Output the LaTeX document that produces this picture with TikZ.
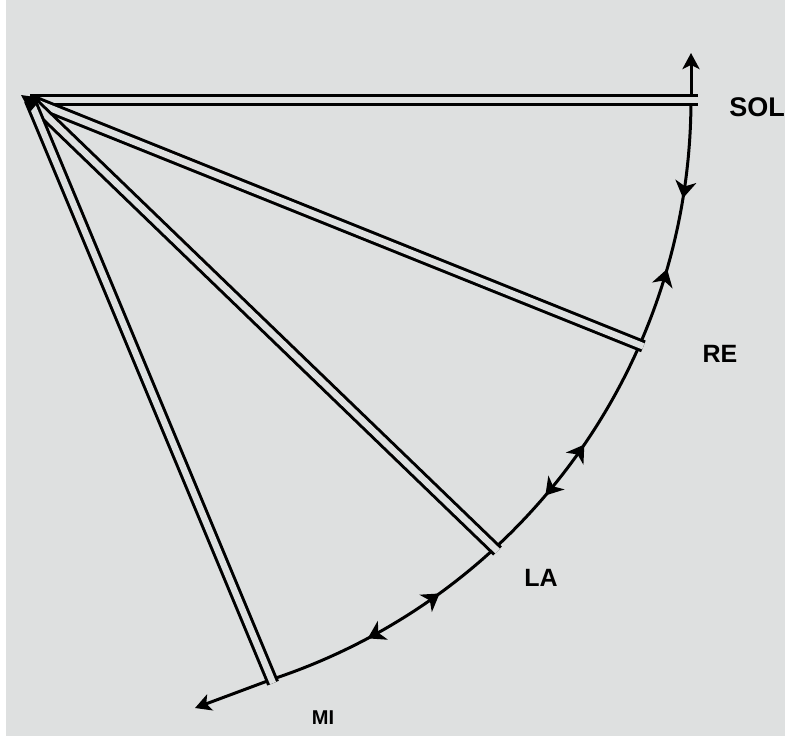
\documentclass[tikz,border=0pt]{standalone}
\usepackage{fontspec}
\setmainfont{Liberation Sans}
\usetikzlibrary{arrows.meta,decorations.markings,calc}
\definecolor{paper}{RGB}{222,224,224}
\tikzset{flowtip/.tip={Stealth[length=17pt,width=21pt,inset=5pt]},
  endtip/.tip={Stealth[length=16pt,width=17pt,inset=4pt]}}
\begin{document}
\begin{tikzpicture}[x=1pt,y=-1pt,
  stringline/.style={draw=black,line width=3pt,double=paper,double distance=6.5pt},
  arcline/.style={line width=3pt,line cap=round},
  lbl/.style={inner sep=0pt,font=\fontsize{25}{25}\selectfont\bfseries}]
\fill[paper] (0,0) rectangle (785,736);
\fill[white] (0,0) rectangle (6,736);
\useasboundingbox (0,0) rectangle (785,736);
\coordinate (C) at (81,100);
\coordinate (P) at (30,100);
\coordinate (SOL) at ($(C)+(0:610)$);
\coordinate (RE) at ($(C)+(23.67:610)$);
\coordinate (LA) at ($(C)+(47.3:610)$);
\coordinate (MI) at ($(C)+(71.8:610)$);
\coordinate (top) at (691,53);
\coordinate (low) at (195,708);
% arc with direction marks
\draw[arcline, postaction={decorate}, decoration={markings,
  mark=at position 0.129 with {\arrow{flowtip}},
  mark=at position 0.224 with {\arrowreversed{flowtip}},
  mark=at position 0.479 with {\arrowreversed{flowtip}},
  mark=at position 0.563 with {\arrow{flowtip}},
  mark=at position 0.752 with {\arrowreversed{flowtip}},
  mark=at position 0.863 with {\arrow{flowtip}}}]
  plot[domain=0:71.8,samples=150] ({81+610*cos(\x)},{100+610*sin(\x)});
\draw[arcline,-endtip] (SOL) -- (top);
\draw[arcline,-endtip] (MI) -- (low);
% strings
\draw[stringline] (P) -- ($(SOL)!-7pt!(P)$);
\draw[stringline] (P) -- ($(RE)!-4pt!(P)$);
\draw[stringline] (P) -- ($(LA)!-4pt!(P)$);
\draw[stringline] (P) -- ($(MI)!-4pt!(P)$);
\fill (21,95) -- (42,98) -- (30,112) -- cycle;
% labels
\node[lbl,font=\fontsize{27}{27}\selectfont\bfseries] (solL) at (757,107) {SOL};
\node[lbl] (reL) at (720,354) {RE};
\node[lbl] (laL) at (541,578) {LA};
\node[lbl,font=\fontsize{20}{20}\selectfont\bfseries] (miL) at (323,718) {MI};
\end{tikzpicture}
\end{document}
